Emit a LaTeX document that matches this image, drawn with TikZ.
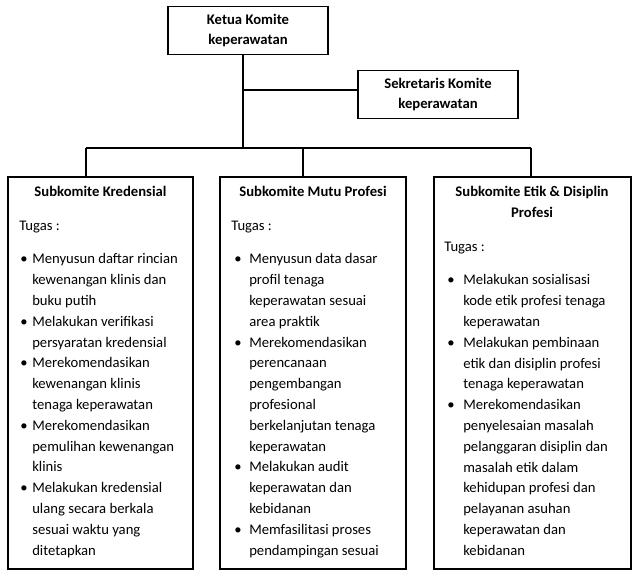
\documentclass[tikz,border=0pt]{standalone}
\usepackage{fontspec}
\setmainfont{Carlito}
\newcommand{\lstfont}{\fontsize{11}{15.6}\selectfont}
\begin{document}
\begin{tikzpicture}[x=0.75pt,y=-0.75pt,
  box/.style={draw=black,line width=0.9pt,inner sep=0pt,minimum height=294pt},
  topbox/.style={draw=black,line width=0.9pt,inner sep=0pt,minimum width=120pt,minimum height=36pt,
    align=center,font=\bfseries\fontsize{11}{14.5}\selectfont},
  txt/.style={inner sep=0pt,anchor=base west,font=\lstfont},
  ttl/.style={inner sep=0pt,anchor=base,font=\bfseries\lstfont},
  conn/.style={draw=black,line width=0.9pt}]
\useasboundingbox (0,0) rectangle (636,577);

% top boxes
\node[topbox] (ketua) at (248,30.5) {Ketua Komite\\keperawatan};
\node[topbox] (sek) at (438,94.5) {Sekretaris Komite\\keperawatan};

% bottom boxes
\node[box,minimum width=138.75pt] (kl) at (100.5,373) {};
\node[box,minimum width=139.5pt] (km) at (313,373) {};
\node[box,minimum width=147.75pt] (kr) at (532.5,373) {};

% connectors
\coordinate (kb) at (243,148);
\coordinate (ks) at (243,90);
\coordinate (dl) at (86,148);
\coordinate (dm) at (303,148);
\coordinate (dr) at (531,148);
\draw[conn] (ketua.south -| kb) -- (kb);
\draw[conn] (ks) -- (ks -| sek.west);
\draw[conn] (dl) -- (dr);
\draw[conn] (dl) -- (dl |- kl.north);
\draw[conn] (dm) -- (dm |- km.north);
\draw[conn] (dr) -- (dr |- kr.north);

% left box content
\node[ttl] (tl) at (100.5,197) {Subkomite Kredensial};
\node[txt] (gl) at (19,231) {Tugas :};
\node[txt] (ll) at (20,264) {\begin{tabular}[t]{@{}p{9pt}@{}l@{}}
\textbullet & Menyusun daftar rincian\\
 & kewenangan klinis dan\\
 & buku putih\\
\textbullet & Melakukan verifikasi\\
 & persyaratan kredensial\\
\textbullet & Merekomendasikan\\
 & kewenangan klinis\\
 & tenaga keperawatan\\
\textbullet & Merekomendasikan\\
 & pemulihan kewenangan\\
 & klinis\\
\textbullet & Melakukan kredensial\\
 & ulang secara berkala\\
 & sesuai waktu yang\\
 & ditetapkan
\end{tabular}};

% middle box content
\node[ttl] (tm) at (313,197) {Subkomite Mutu Profesi};
\node[txt] (gm) at (231,231) {Tugas :};
\node[txt] (lm) at (234,264) {\begin{tabular}[t]{@{}p{11.25pt}@{}l@{}}
\textbullet & Menyusun data dasar\\
 & profil tenaga\\
 & keperawatan sesuai\\
 & area praktik\\
\textbullet & Merekomendasikan\\
 & perencanaan\\
 & pengembangan\\
 & profesional\\
 & berkelanjutan tenaga\\
 & keperawatan\\
\textbullet & Melakukan audit\\
 & keperawatan dan\\
 & kebidanan\\
\textbullet & Memfasilitasi proses\\
 & pendampingan sesuai
\end{tabular}};

% right box content
\node[ttl] (tr) at (532,197) {\begin{tabular}[t]{@{}c@{}}Subkomite Etik \& Disiplin\\Profesi\end{tabular}};
\node[txt] (gr) at (444,252) {Tugas :};
\node[txt] (lr) at (447,285) {\begin{tabular}[t]{@{}p{12pt}@{}l@{}}
\textbullet & Melakukan sosialisasi\\
 & kode etik profesi tenaga\\
 & keperawatan\\
\textbullet & Melakukan pembinaan\\
 & etik dan disiplin profesi\\
 & tenaga keperawatan\\
\textbullet & Merekomendasikan\\
 & penyelesaian masalah\\
 & pelanggaran disiplin dan\\
 & masalah etik dalam\\
 & kehidupan profesi dan\\
 & pelayanan asuhan\\
 & keperawatan dan\\
 & kebidanan
\end{tabular}};
\end{tikzpicture}
\end{document}
